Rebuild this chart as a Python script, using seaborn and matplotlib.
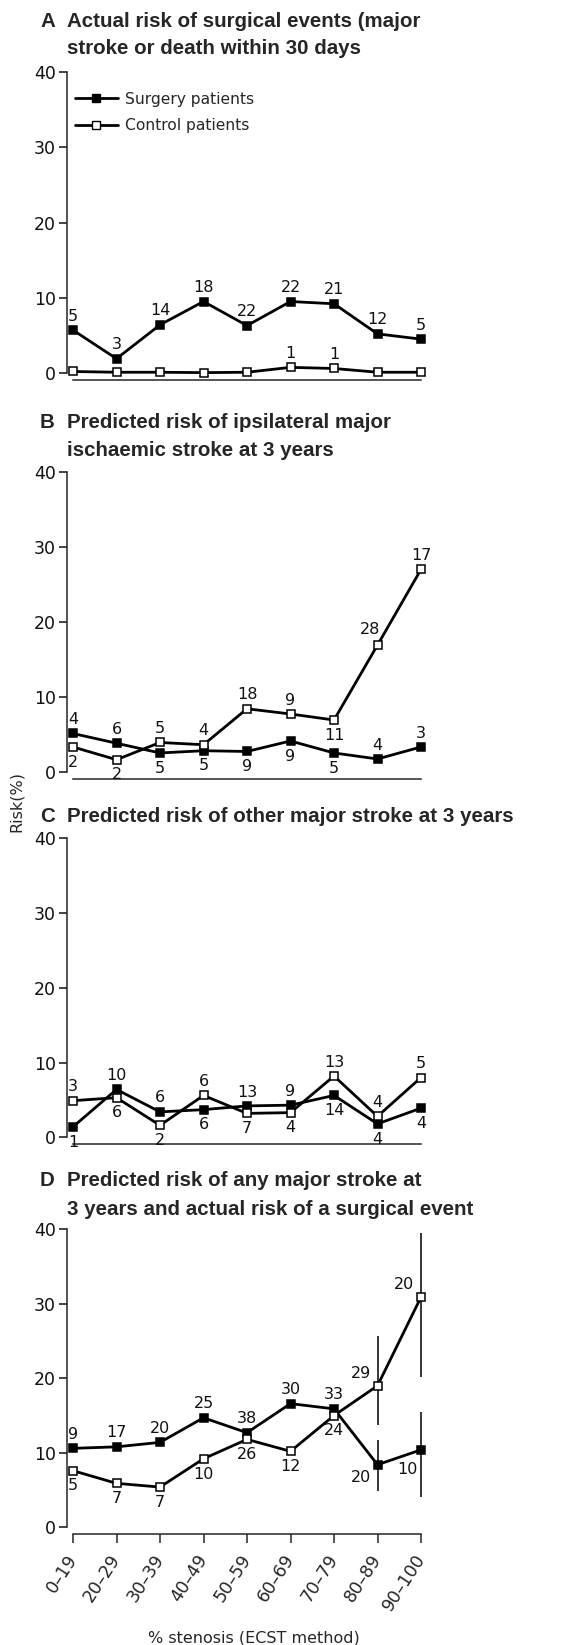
import numpy as np
import pandas as pd
import matplotlib
matplotlib.use("Agg")
import matplotlib.pyplot as plt
import seaborn as sns
from matplotlib.lines import Line2D

# ---------------- data ----------------
categories = ["0–19", "20–29", "30–39", "40–49", "50–59", "60–69", "70–79", "80–89", "90–100"]

A_surgery = [5.7, 1.9, 6.4, 9.5, 6.3, 9.5, 9.2, 5.2, 4.5]
A_control = [0.2, 0.1, 0.1, 0.05, 0.1, 0.75, 0.6, 0.1, 0.1]
A_surgery_n = ["5", "3", "14", "18", "22", "22", "21", "12", "5"]
A_control_n = ["", "", "", "", "", "1", "1", "", ""]

B_surgery = [5.1, 3.8, 2.5, 2.8, 2.7, 4.1, 2.5, 1.7, 3.3]
B_control = [3.3, 1.6, 3.9, 3.6, 8.4, 7.7, 6.9, 16.9, 27.0]
B_surgery_n = ["4", "6", "5", "5", "9", "9", "5", "4", "3"]
B_control_n = ["2", "2", "5", "4", "18", "9", "11", "28", "17"]

C_surgery = [1.4, 6.4, 3.4, 3.7, 4.2, 4.3, 5.6, 1.8, 3.9]
C_control = [4.9, 5.3, 1.6, 5.6, 3.2, 3.3, 8.2, 2.8, 8.0]
C_surgery_n = ["1", "10", "6", "6", "13", "9", "14", "4", "4"]
C_control_n = ["3", "6", "2", "6", "7", "4", "13", "4", "5"]

D_surgery = [10.6, 10.8, 11.4, 14.7, 12.7, 16.6, 15.9, 8.4, 10.4]
D_control = [7.6, 5.9, 5.4, 9.2, 11.8, 10.2, 15.0, 19.0, 30.9]
D_surgery_n = ["9", "17", "20", "25", "38", "30", "33", "20", "10"]
D_control_n = ["5", "7", "7", "10", "26", "12", "24", "29", "20"]
nan = np.nan
D_surgery_ci_low = [nan, nan, nan, nan, nan, nan, nan, 4.9, 4.1]
D_surgery_ci_high = [nan, nan, nan, nan, nan, nan, nan, 11.7, 15.5]
D_control_ci_low = [nan, nan, nan, nan, nan, nan, nan, 13.7, 20.2]
D_control_ci_high = [nan, nan, nan, nan, nan, nan, nan, 25.7, 39.5]

titles = [
    ("A", "Actual risk of surgical events (major\nstroke or death within 30 days"),
    ("B", "Predicted risk of ipsilateral major\nischaemic stroke at 3 years"),
    ("C", "Predicted risk of other major stroke at 3 years"),
    ("D", "Predicted risk of any major stroke at\n3 years and actual risk of a surgical event"),
]
series_labels = ["Surgery patients", "Control patients"]
y_label = "Risk(%)"
x_label = "% stenosis (ECST method)"
y_ticks = [0, 10, 20, 30, 40]

# label placement (a = above, b = below, al/bl = shifted left)
A_surg_pos = ["a"] * 9
A_ctrl_pos = ["a"] * 9
B_surg_pos = ["a", "a", "b", "b", "b", "b", "b", "a", "a"]
B_ctrl_pos = ["b", "b", "a", "a", "a", "a", "b", "al2", "a"]
C_surg_pos = ["b", "a", "a", "b", "a", "a", "b", "b", "b"]
C_ctrl_pos = ["a", "b", "b", "a", "b", "b", "a", "a", "a"]
D_surg_pos = ["a"] * 7 + ["bl", "bl2"]
D_ctrl_pos = ["b"] * 7 + ["al", "al"]

# ---------------- style ----------------
sns.set_style("ticks")
plt.rcParams["font.family"] = ["DejaVu Sans"]
TITLE_FAMILY = ["Liberation Sans Narrow", "Liberation Sans", "DejaVu Sans"]
TITLE_SIZE = 14.8

W, H = 575, 1645
fig = plt.figure(figsize=(W / 100, H / 100), dpi=100)

left_px, right_px = 67, 440
unit = (421 - 73) / 8.0
xlim = (-(73 - left_px) / unit, 8 + (right_px - 421) / unit)


def rect(top, bottom):
    return [left_px / W, 1 - bottom / H, (right_px - left_px) / W, (bottom - top) / H]


axes_px = [(72, 373), (472, 771.7), (838.3, 1137.3), (1229.3, 1527.3)]
title_baselines = [(26.7, 54), (427.7, 456), (821.7,), (1186, 1215)]

offsets = {
    "a": (0, 10), "b": (0, -11),
    "al": (-12, 9), "al2": (-5, 11),
    "bl": (-12, -9), "bl2": (-10, -14),
}

x = np.arange(len(categories))


def draw_series(ax, y, filled, z):
    df = pd.DataFrame({"x": x, "y": y})
    sns.lineplot(data=df, x="x", y="y", ax=ax, color="black", lw=2.0,
                 marker="s", markersize=6.2,
                 markerfacecolor="black" if filled else "white",
                 markeredgecolor="black", markeredgewidth=1.1,
                 clip_on=False, zorder=z, legend=False)


def label_series(ax, y, labels, pos):
    for xi, yi, lab, p in zip(x, y, labels, pos):
        if not lab:
            continue
        dx, dy = offsets[p]
        ax.annotate(lab, (xi, yi), xytext=(dx, dy), textcoords="offset points",
                    ha="center", va="center", fontsize=11.5, color="#111111",
                    annotation_clip=False, zorder=5)


panels = [
    (A_surgery, A_control, A_surgery_n, A_control_n, A_surg_pos, A_ctrl_pos),
    (B_surgery, B_control, B_surgery_n, B_control_n, B_surg_pos, B_ctrl_pos),
    (C_surgery, C_control, C_surgery_n, C_control_n, C_surg_pos, C_ctrl_pos),
    (D_surgery, D_control, D_surgery_n, D_control_n, D_surg_pos, D_ctrl_pos),
]

for i, (sy, cy, sn, cn, sp, cp) in enumerate(panels):
    ax = fig.add_axes(rect(*axes_px[i]))
    if i == 3:
        ax.vlines(x, D_surgery_ci_low, D_surgery_ci_high, color="black", lw=1.1, zorder=2)
        ax.vlines(x, D_control_ci_low, D_control_ci_high, color="black", lw=1.1, zorder=2)
    draw_series(ax, sy, True, 3)
    draw_series(ax, cy, False, 4)
    label_series(ax, sy, sn, sp)
    label_series(ax, cy, cn, cp)

    ax.set_xlim(*xlim)
    ax.set_ylim(0, 40)
    ax.set_yticks(y_ticks)
    ax.set_xlabel("")
    ax.set_ylabel("")
    sns.despine(ax=ax, top=True, right=True)
    ax.spines["left"].set_bounds(0, 40)
    ax.spines["left"].set_linewidth(1.1)
    ax.spines["bottom"].set_position(("outward", 5))
    ax.spines["bottom"].set_bounds(0, 8)
    ax.spines["bottom"].set_linewidth(1.1)
    ax.tick_params(axis="y", direction="out", length=6, width=1.1, labelsize=12.5, pad=2,
                   colors="#111111")
    if i == 3:
        ax.set_xticks(x)
        ax.set_xticklabels(categories, rotation=57, ha="right", va="center",
                           rotation_mode="anchor", fontsize=12.5)
        ax.tick_params(axis="x", direction="out", length=6.5, width=1.1, pad=9)
        ax.set_xlabel(x_label, fontsize=11.5, labelpad=12)
    else:
        ax.set_xticks([])
    ax.patch.set_alpha(0)

    if i == 0:
        handles = [
            Line2D([], [], color="black", lw=2.0, marker="s", markersize=6.2,
                   markerfacecolor="black", markeredgecolor="black"),
            Line2D([], [], color="black", lw=2.0, marker="s", markersize=6.2,
                   markerfacecolor="white", markeredgecolor="black"),
        ]
        ax.legend(handles, series_labels, loc="upper left",
                  bbox_to_anchor=(0.021, 0.935), frameon=False, fontsize=11.2,
                  handlelength=2.75, handletextpad=0.5, borderpad=0,
                  borderaxespad=0, labelspacing=0.75)

    letter, title = titles[i]
    lines = title.split("\n")
    for li, (line, base) in enumerate(zip(lines, title_baselines[i])):
        if li == 0:
            fig.text(40 / W, 1 - base / H, letter, family=TITLE_FAMILY,
                     fontweight="bold", fontsize=TITLE_SIZE, va="baseline", ha="left")
        fig.text(67 / W, 1 - base / H, line, family=TITLE_FAMILY,
                 fontweight="bold", fontsize=TITLE_SIZE, va="baseline", ha="left")

fig.text(16 / W, 1 - 802 / H, y_label, rotation=90, va="center", ha="center",
         fontsize=11.5)

fig.savefig("out.png", dpi=100)
